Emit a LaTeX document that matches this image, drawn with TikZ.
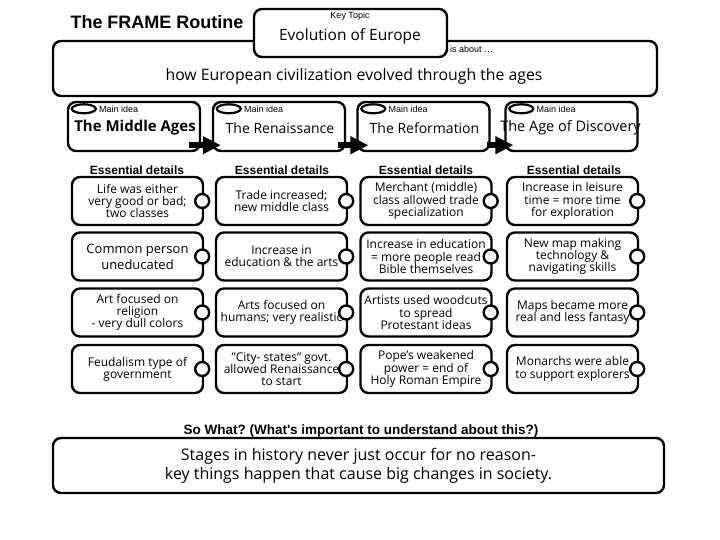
\documentclass[tikz,border=0pt]{standalone}
\usepackage{fontspec}
\setmainfont{Open Sans}
\newfontfamily\arialf{Liberation Sans}
\usetikzlibrary{arrows.meta,shapes.geometric}
\newcommand\detf{\fontsize{12}{12.3}\selectfont}
\newcommand\bigf{\fontsize{16}{19}\selectfont}
\frenchspacing
\begin{document}
\begin{tikzpicture}[x=1pt,y=-1pt,
 frame/.style={draw, line width=2.4pt, rounded corners=8pt, fill=white, inner sep=0pt},
 detail/.style={frame, minimum width=131pt, minimum height=48pt, align=center, font=\detf},
 mainbox/.style={frame, minimum width=132pt, minimum height=49pt},
 knob/.style={circle, draw, line width=2.4pt, fill=white, minimum size=14pt, inner sep=0pt},
 oval/.style={ellipse, draw, line width=2.2pt, fill=white, minimum width=24pt, minimum height=9pt, inner sep=0pt},
 small/.style={font=\arialf\fontsize{9}{9}\selectfont, inner sep=0pt},
 header/.style={font=\arialf\bfseries\fontsize{12}{12}\selectfont, inner sep=0pt},
 mtext/.style={font=\fontsize{14}{16}\selectfont, inner sep=0pt},
 bigarrow/.style={line width=5.5pt, -{Triangle[length=18pt,width=17pt]}}]
\useasboundingbox (0,0) rectangle (720,540);
\fill[white] (0,0) rectangle (720,540);

% title
\node[font=\arialf\bfseries\fontsize{18}{18}\selectfont, inner sep=0pt] (title) at (157,22) {The FRAME Routine};

% is about box and key topic
\node[frame, minimum width=604pt, minimum height=55pt] (about) at (355,68.5) {};
\node[frame, minimum width=193pt, minimum height=48pt] (key) at (350.5,33) {};
\node[small] (keylbl) at (350,16) {Key Topic};
\node[font=\fontsize{15.5}{17}\selectfont, inner sep=0pt] (keytxt) at (350,36) {Evolution of Europe};
\node[small, anchor=west] (islbl) at (450,49) {is about \dots};
\node[font=\fontsize{15.8}{18}\selectfont, inner sep=0pt] (abouttxt) at (354,76) {how European civilization evolved through the ages};

% main ideas
\node[mainbox] (m1) at (134,126.5) {};
\node[mainbox] (m2) at (279,126.5) {};
\node[mainbox] (m3) at (423.5,126.5) {};
\node[mainbox] (m4) at (571.5,126.5) {};
\foreach \i in {1,2,3,4}{
  \node[oval] (o\i) at ([shift={(17pt,-8pt)}]m\i.north west) {};
  \node[small, anchor=west] (ml\i) at ([xshift=2pt]o\i.east) {Main idea};
}
\node[mtext, font=\bfseries\fontsize{15}{17}\selectfont] (mt1) at (135,128) {The Middle Ages};
\node[mtext] (mt2) at (280,128) {The Renaissance};
\node[mtext] (mt3) at (424.5,128) {The Reformation};
\node[mtext, font=\fontsize{14.5}{16}\selectfont] (mt4) at (570.5,128) {The Age of Discovery};

\draw[bigarrow] ([shift={(-12pt,7pt)}]m1.south east) -- ([shift={(9pt,7pt)}]m2.south west);
\draw[bigarrow] ([shift={(-8pt,7pt)}]m2.south east) -- ([shift={(12pt,7pt)}]m3.south west);
\draw[bigarrow] ([shift={(-4pt,7pt)}]m3.south east) -- ([shift={(9pt,7pt)}]m4.south west);

% headers
\node[header] (h1) at (137,170) {Essential details};
\node[header] (h2) at (282,170) {Essential details};
\node[header] (h3) at (426,170) {Essential details};
\node[header] (h4) at (574,170) {Essential details};

% details column 1
\node[detail] (d11) at (137.5,201) {Life was either\\very good or bad;\\two classes};
\node[detail, font=\fontsize{13}{16}\selectfont] (d12) at (137.5,256.5) {Common person\\uneducated};
\node[detail] (d13) at (137.5,312.5) {Art focused on\\religion\\- very dull colors};
\node[detail] (d14) at (137.5,369) {Feudalism type of\\government};
% column 2
\node[detail] (d21) at (281.5,201) {Trade increased;\\new middle class};
\node[detail] (d22) at (281.5,256.5) {Increase in\\education \& the arts};
\node[detail] (d23) at (281.5,312.5) {Arts focused on\\humans; very realistic};
\node[detail] (d24) at (281.5,369) {"City- states" govt.\\allowed Renaissance\\to start};
% column 3
\node[detail] (d31) at (426,201) {Merchant (middle)\\class allowed trade\\specialization};
\node[detail] (d32) at (426,256.5) {Increase in education\\= more people read\\Bible themselves};
\node[detail] (d33) at (426,312.5) {Artists used woodcuts\\to spread\\Protestant ideas};
\node[detail] (d34) at (426,369) {Pope's weakened\\power = end of\\Holy Roman Empire};
% column 4
\node[detail] (d41) at (572.5,201) {Increase in leisure\\time = more time\\for exploration};
\node[detail] (d42) at (572.5,256.5) {New map making\\technology \&\\navigating skills};
\node[detail] (d43) at (572.5,312.5) {Maps became more\\real and less fantasy};
\node[detail] (d44) at (572.5,369) {Monarchs were able\\to support explorers};

\foreach \c in {1,2,3,4}{
  \foreach \r in {1,2,3,4}{
    \node[knob] (k\c\r) at ([xshift=-2pt]d\c\r.east) {};
  }
}

% so what
\node[font=\arialf\bfseries\fontsize{13.5}{14}\selectfont, inner sep=0pt] (sowhat) at (361,431) {So What? (What's important to understand about this?)};
\node[frame, minimum width=611pt, minimum height=55pt, align=center, font=\bigf] (bottom) at (358.5,465.5) {Stages in history never just occur for no reason-\\key things happen that cause big changes in society.};
\end{tikzpicture}
\end{document}
